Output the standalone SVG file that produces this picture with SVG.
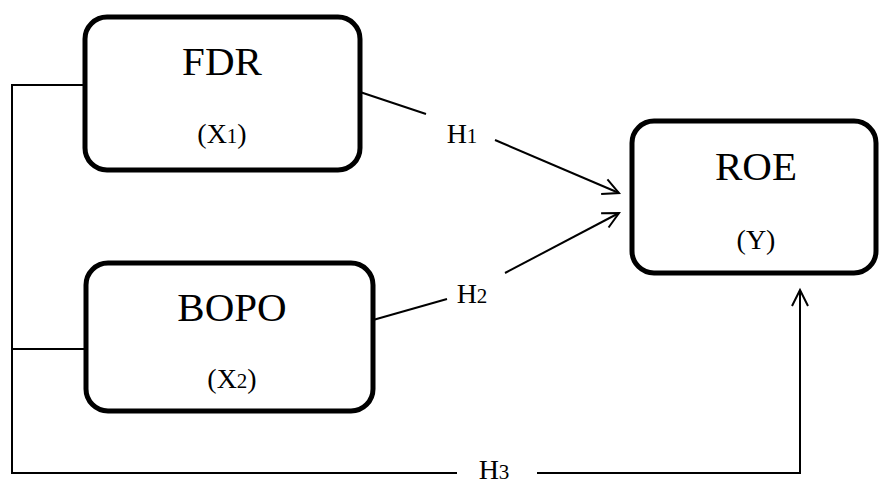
<svg xmlns="http://www.w3.org/2000/svg" width="879" height="486" viewBox="0 0 879 486">
<style>
.box{fill:#fff;stroke:#000;stroke-width:5}
.ln{fill:none;stroke:#000;stroke-width:2}
.big{font-family:"Liberation Serif","Times New Roman",serif;font-size:41px;text-anchor:middle;fill:#000}
.sm{font-family:"Liberation Serif","Times New Roman",serif;font-size:28px;text-anchor:middle;fill:#000}
.sub{font-size:21px}
</style>
<defs>
<marker id="arr" markerUnits="userSpaceOnUse" markerWidth="24" markerHeight="24" refX="18" refY="12" orient="auto">
<path d="M2,4 L18,12 L2,20" fill="none" stroke="#000" stroke-width="2"/>
</marker>
</defs>
<rect width="879" height="486" fill="#fff"/>
<g id="connectors">
<polyline class="ln" points="85,85 12,85 12,473 457,473"/>
<line class="ln" x1="12" y1="349" x2="85" y2="349"/>
<polyline class="ln" points="537,473 800,473 800,290" marker-end="url(#arr)"/>
<line class="ln" x1="360" y1="92" x2="426" y2="114"/>
<line class="ln" x1="495" y1="140" x2="619" y2="193" marker-end="url(#arr)"/>
<line class="ln" x1="373" y1="320" x2="447" y2="299"/>
<line class="ln" x1="505" y1="273" x2="619" y2="213" marker-end="url(#arr)"/>
<text class="sm" x="462" y="143">H<tspan class="sub">1</tspan></text>
<text class="sm" x="472" y="303">H<tspan class="sub">2</tspan></text>
<text class="sm" x="494" y="479">H<tspan class="sub">3</tspan></text>
</g>
<g id="fdr">
<rect class="box" x="85" y="17" width="275" height="153" rx="22"/>
<text class="big" x="222" y="75">FDR</text>
<text class="sm" x="222" y="143">(X<tspan class="sub">1</tspan>)</text>
</g>
<g id="bopo">
<rect class="box" x="86" y="263" width="287" height="148" rx="22"/>
<text class="big" x="232" y="321">BOPO</text>
<text class="sm" x="232" y="388">(X<tspan class="sub">2</tspan>)</text>
</g>
<g id="roe">
<rect class="box" x="632" y="121" width="244" height="152" rx="22"/>
<text class="big" x="756" y="180">ROE</text>
<text class="sm" x="756" y="249">(Y)</text>
</g>
</svg>
